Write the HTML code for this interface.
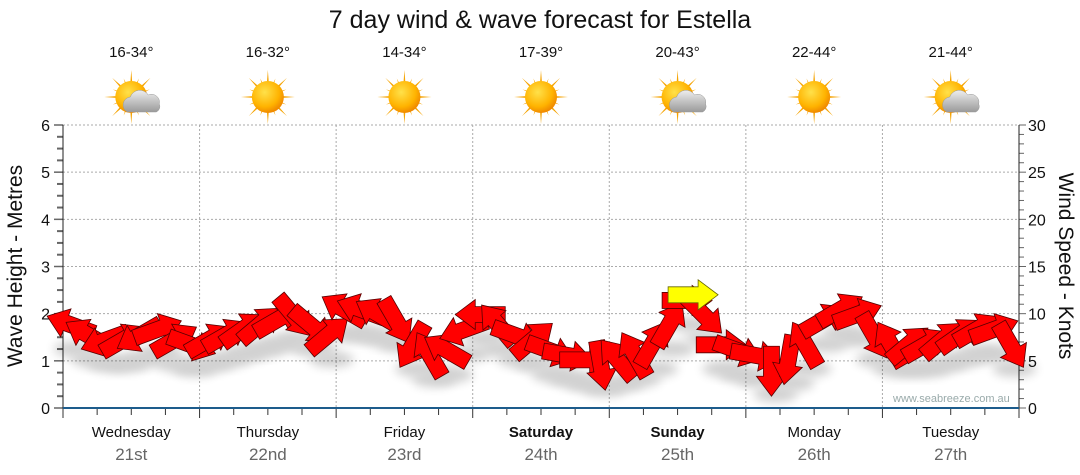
<!DOCTYPE html>
<html><head><meta charset="utf-8"><style>
body{margin:0;background:#fff;}
svg{display:block;font-family:"Liberation Sans",sans-serif;}
</style></head><body>
<svg id="c" width="1080" height="475">
<defs>
<radialGradient id="sunG" cx="40%" cy="35%" r="65%"><stop offset="0" stop-color="#ffe14a"/><stop offset="0.7" stop-color="#ffb300"/><stop offset="1" stop-color="#f08a00"/></radialGradient>
<linearGradient id="cloudG" x1="0" y1="0" x2="0" y2="1"><stop offset="0" stop-color="#eee"/><stop offset="1" stop-color="#9a9a9a"/></linearGradient>
<filter id="sh" x="-50%" y="-50%" width="200%" height="200%"><feGaussianBlur stdDeviation="5"/></filter>
</defs>
<text x="540" y="28" text-anchor="middle" font-size="25" fill="#111">7 day wind &amp; wave forecast for Estella</text>
<g id="grid"></g>
<g id="icons"></g>
<g id="shadows" opacity="0.18"></g>
<g id="arrows"></g>
<text x="893" y="402" font-size="11" fill="#9aa">www.seabreeze.com.au</text>
<text transform="translate(22,266) rotate(-90)" text-anchor="middle" font-size="21" fill="#111">Wave Height - Metres</text>
<text transform="translate(1059,266) rotate(90)" text-anchor="middle" font-size="21" fill="#111">Wind Speed - Knots</text>
</svg>
<script>
const days=["Wednesday","Thursday","Friday","Saturday","Sunday","Monday","Tuesday"];
const dates=["21st","22nd","23rd","24th","25th","26th","27th"];
const temps=["16-34°","16-32°","14-34°","17-39°","20-43°","22-44°","21-44°"];
const cloudy=[1,0,0,0,1,0,1];
const boldDays=[0,0,0,1,1,0,0];
const waveTicks=[0,1,2,3,4,5,6];
const windTicks=[0,5,10,15,20,25,30];
const windSpeed=[8.8,7.7,7.2,7.2,7.7,8.3,7.2,6.7, 7.2,7.7,8.3,8.8,9.3,9.8,8.8,7.7, 10.4,10.4,9.9,9.3,6.7,5.6,6.1,8.3, 9.9,8.8,7.7,7.2,6.1,5.6,5.1,4.6, 5.1,5.6,6.7,8.8,11.4,9.9,6.7,6.1, 5.6,4.0,5.2,6.7,9.3,10.4,9.9,7.7, 6.7,6.7,6.7,7.2,7.7,8.3,8.3,6.7];
const windDir=[-160,-150,160,-30,150,-20,-30,20, -30,-30,-35,-40,-30,50,40,-40, -150,-160,-150,60,120,-120,-150,160, 180,-130,20,-40,20,10,0,80, -130,-120,-60,-60,0,45,0,20, 10,90,100,-120,-30,-30,-20,60, -120,-40,-30,-40,-35,-30,-20,60];
const gustIdx=[36];
const gustSpeed=[12.0];
const NS="http://www.w3.org/2000/svg";
const X0=63,X1=1019,Y0=408,Y1=125,DW=(X1-X0)/7;
const yW=v=>Y0-(v/6)*(Y0-Y1);
const yK=v=>Y0-(v/30)*(Y0-Y1);
const xT=i=>X0+(i+0.5)*DW/8;
function mk(t,a,p){const e=document.createElementNS(NS,t);for(const k in a)e.setAttribute(k,a[k]);(p||document.getElementById('c')).appendChild(e);return e;}
const g=document.getElementById('grid');
waveTicks.forEach(v=>{
 if(v>0){const l=mk('line',{x1:X0,x2:X1,y1:yW(v),y2:yW(v),stroke:'#aaa','stroke-dasharray':'2,2'},g);
 
 }
 const t=mk('text',{x:50,y:yW(v)+6,'text-anchor':'end','font-size':16,fill:'#111'},g);t.textContent=v;
 
 
});
windTicks.forEach(v=>{
 const t=mk('text',{x:1028,y:yK(v)+6,'font-size':16,fill:'#111'},g);t.textContent=v;
 
 
});
for(let i=0;i<=24;i++){const y=Y0-i*(Y0-Y1)/24;mk('line',{x1:i%4?57:54,x2:X0,y1:y,y2:y,stroke:'#666','stroke-width':i%4?2:1.5},g);}
for(let i=0;i<=30;i++){const y=yK(i);mk('line',{x1:X1,x2:X1+(i%5?5:7),y1:y,y2:y,stroke:'#666'},g);}
mk('line',{x1:X0,x2:X0,y1:Y1,y2:Y0,stroke:'#222'},g);
mk('line',{x1:X1,x2:X1,y1:Y1,y2:Y0,stroke:'#222'},g);
for(let d=1;d<7;d++){const x=X0+d*DW;mk('line',{x1:x,x2:x,y1:Y1,y2:Y0,stroke:'#aaa','stroke-dasharray':'2,2'},g);}
for(let i=0;i<=28;i++){const x=X0+i*DW/4;mk('line',{x1:x,x2:x,y1:Y0,y2:Y0+(i%4?7:10),stroke:'#333'},g);}
mk('line',{x1:X0,x2:X1,y1:Y0,y2:Y0,stroke:'#1d5c8c','stroke-width':2},g);
const ic=document.getElementById('icons');
days.forEach((d,i)=>{
 const cx=X0+(i+0.5)*DW;
 const a=mk('text',{x:cx,y:437,'text-anchor':'middle','font-size':15,fill:'#111','font-weight':boldDays[i]?'bold':'normal'},g);a.textContent=d;
 
 
 const b=mk('text',{x:cx,y:460,'text-anchor':'middle','font-size':17,fill:'#666'},g);b.textContent=dates[i];
 
 
 const t=mk('text',{x:cx,y:57,'text-anchor':'middle','font-size':15,fill:'#111'},ic);t.textContent=temps[i];
 
 
 const sg=mk('g',{transform:`translate(${cx},97)`},ic);
 
 
 for(let r=0;r<16;r++){const ang=r*22.5,L=r%2?20:27;mk('polygon',{points:`-2,0 2,0 0,${-L}`,fill:'#f5a300',transform:`rotate(${ang})`},sg);}
 mk('circle',{r:16,fill:'url(#sunG)'},sg);
 if(cloudy[i]){mk('path',{d:'M-4,15 a8,8 0 0 1 3,-15 a10,10 0 0 1 18,-2 a8,8 0 0 1 11,9 a6,6 0 0 1 -3,8 z',fill:'url(#cloudG)',stroke:'#999','stroke-width':0.5},sg);}
});
const sh=document.getElementById('shadows'),ar=document.getElementById('arrows');
const AP="-24,-8 6,-8 6,-15 26,0 6,15 6,8 -24,8";
function arrow(i,k,dir,fill){
 const x=xT(i),y=yK(k);
 mk('ellipse',{cx:x+4,cy:y+24,rx:22,ry:8,fill:'#000',filter:'url(#sh)'},sh);
 const p=mk('polygon',{points:AP,fill:fill,stroke:'#500','stroke-width':0.8,transform:`translate(${x},${y}) rotate(${dir})`},ar);
 
 
}
windSpeed.forEach((k,i)=>arrow(i,k,windDir[i],'#f00'));
gustIdx.forEach((i,j)=>{const p=mk('polygon',{points:AP,fill:'#ff0',stroke:'#660','stroke-width':0.8,transform:`translate(${xT(i)+6},${yK(gustSpeed[j])}) rotate(0)`},ar);
 
 });
</script>
</body></html>
